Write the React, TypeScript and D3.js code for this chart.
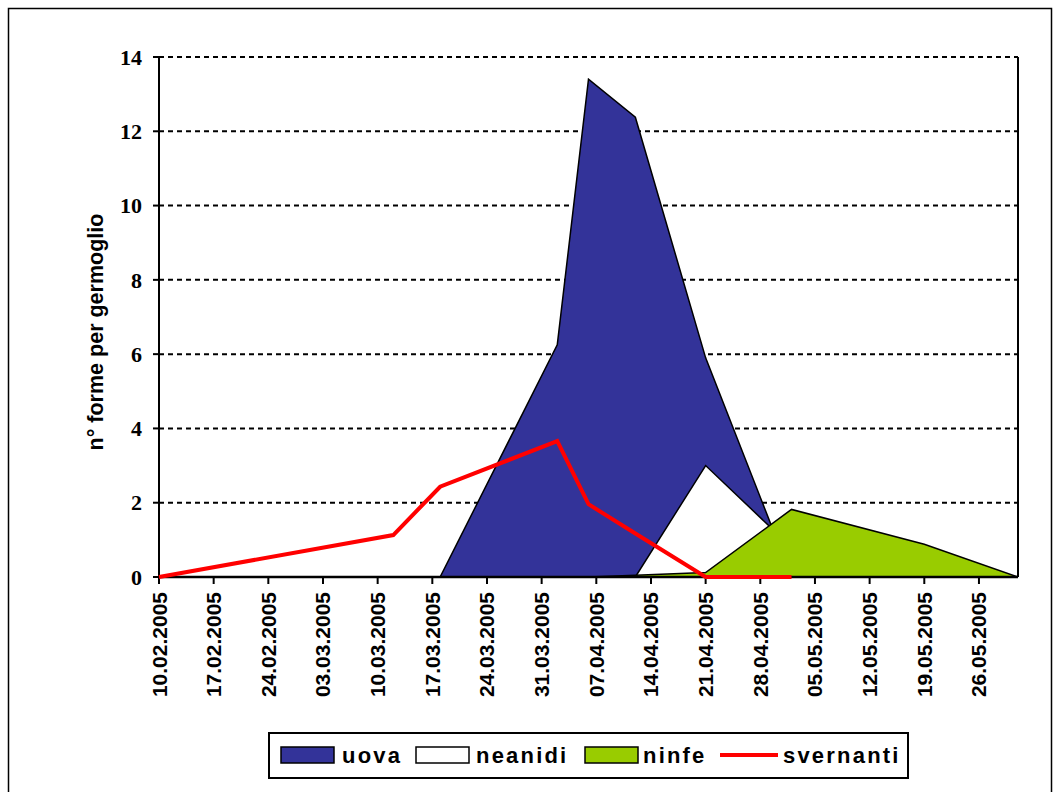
import React from "react";
import * as d3 from "d3";

const dates = ["2005-02-10", "2005-03-12", "2005-03-18", "2005-04-02", "2005-04-06", "2005-04-12", "2005-04-21", "2005-05-02", "2005-05-19", "2005-05-31"];
const uova = [0, 0, 0, 6.25, 13.4, 12.38, 5.9, 0, 0, 0];
const neanidi = [0, 0, 0, 0, 0, 0, 3.0, 0.8, 0, 0];
const ninfe = [0, 0, 0, 0, 0, 0.05, 0.12, 1.82, 0.88, 0];
const svernanti: (number | null)[] = [0, 1.13, 2.43, 3.66, 1.96, 1.17, 0, 0, null, null];

const xTickLabels = ["10.02.2005", "17.02.2005", "24.02.2005", "03.03.2005", "10.03.2005", "17.03.2005", "24.03.2005", "31.03.2005", "07.04.2005", "14.04.2005", "21.04.2005", "28.04.2005", "05.05.2005", "12.05.2005", "19.05.2005", "26.05.2005"];
const yTicks = [0, 2, 4, 6, 8, 10, 12, 14];
const xDomain = ["2005-02-10", "2005-05-31"];

const seriesNames = ["uova", "neanidi", "ninfe", "svernanti"];
const colors = { uova: "#333399", neanidi: "#ffffff", ninfe: "#99cc00", svernanti: "#ff0000" };

const parseISO = d3.utcParse("%Y-%m-%d");
const parseDMY = d3.utcParse("%d.%m.%Y");

export default function App() {
  const left = 159, right = 1018, top = 57, bottom = 577;
  const x = d3.scaleUtc().domain(xDomain.map((d) => parseISO(d) as Date)).range([left, right]);
  const y = d3.scaleLinear().domain([0, 14]).range([bottom, top]);
  const xs = dates.map((d) => x(parseISO(d) as Date));

  const area = (vals: number[]) =>
    d3.area<number>().x((_, i) => xs[i]).y0(y(0)).y1((v) => y(v))(vals) + "Z";
  const line = d3
    .line<number | null>()
    .defined((v) => v !== null)
    .x((_, i) => xs[i])
    .y((v) => y(v as number))(svernanti) as string;

  const sans = "'Liberation Sans', Arial, sans-serif";
  const serif = "'Liberation Serif', 'Times New Roman', serif";

  const legendItems = [
    { name: seriesNames[0], kind: "rect", color: colors.uova, sx: 281, tx: 342 },
    { name: seriesNames[1], kind: "rect", color: colors.neanidi, sx: 416, tx: 476 },
    { name: seriesNames[2], kind: "rect", color: colors.ninfe, sx: 585, tx: 643 },
    { name: seriesNames[3], kind: "line", color: colors.svernanti, sx: 720, tx: 783 },
  ];
  const legY = 755;

  return (
    <svg width={1061} height={792} style={{ position: "absolute", left: 0, top: 0, background: "#fff" }}>
      <rect x={8.5} y={8.5} width={1043} height={800} fill="#fff" stroke="#000" strokeWidth={1.5} />
      {/* gridlines */}
      {yTicks.filter((t) => t > 0).map((t) => (
        <line key={t} x1={left} x2={right} y1={y(t)} y2={y(t)} stroke="#000" strokeWidth={2} strokeDasharray="5,4" />
      ))}
      {/* areas */}
      <path d={area(uova)} fill={colors.uova} stroke="#000" strokeWidth={1.5} strokeLinejoin="miter" />
      <path d={area(neanidi)} fill={colors.neanidi} stroke="#000" strokeWidth={1.5} />
      <path d={area(ninfe)} fill={colors.ninfe} stroke="#000" strokeWidth={1.5} />
      {/* right border */}
      <line x1={right} x2={right} y1={top} y2={bottom} stroke="#000" strokeWidth={2} />
      {/* y axis */}
      <line x1={left} x2={left} y1={top - 1} y2={bottom + 1} stroke="#000" strokeWidth={2} />
      {yTicks.map((t) => (
        <g key={t}>
          <line x1={left - 6} x2={left} y1={y(t)} y2={y(t)} stroke="#000" strokeWidth={2} />
          <text x={142} y={y(t)} dy="0.35em" textAnchor="end" fontFamily={serif} fontWeight="bold" fontSize={22}>
            {t}
          </text>
        </g>
      ))}
      <text
        transform={`translate(103, 332) rotate(-90)`}
        textAnchor="middle"
        fontFamily={sans}
        fontWeight="bold"
        fontSize={21.5}
      >
        n° forme per germoglio
      </text>
      {/* x axis */}
      <line x1={left} x2={right} y1={bottom} y2={bottom} stroke="#000" strokeWidth={2.5} />
      {xTickLabels.map((lab) => {
        const tx = x(parseDMY(lab) as Date);
        return (
          <g key={lab}>
            <line x1={tx} x2={tx} y1={bottom} y2={bottom + 7} stroke="#000" strokeWidth={2} />
            <text
              transform={`translate(${tx + 7.5}, 592) rotate(-90)`}
              textAnchor="end"
              fontFamily={sans}
              fontWeight="bold"
              fontSize={21}
            >
              {lab}
            </text>
          </g>
        );
      })}
      {/* svernanti line */}
      <path d={line} fill="none" stroke={colors.svernanti} strokeWidth={4} strokeLinejoin="miter" />
      {/* legend */}
      <rect x={269} y={733} width={639} height={45} fill="#fff" stroke="#000" strokeWidth={2} />
      {legendItems.map((it) => (
        <g key={it.name}>
          {it.kind === "rect" ? (
            <rect x={it.sx} y={legY - 8} width={53} height={16} fill={it.color} stroke="#000" strokeWidth={1.5} />
          ) : (
            <line x1={it.sx} x2={it.sx + 58} y1={legY} y2={legY} stroke={it.color} strokeWidth={4} />
          )}
          <text x={it.tx} y={legY} dy="0.36em" fontFamily={sans} fontWeight="bold" fontSize={22} letterSpacing={2.2}>
            {it.name}
          </text>
        </g>
      ))}
    </svg>
  );
}
